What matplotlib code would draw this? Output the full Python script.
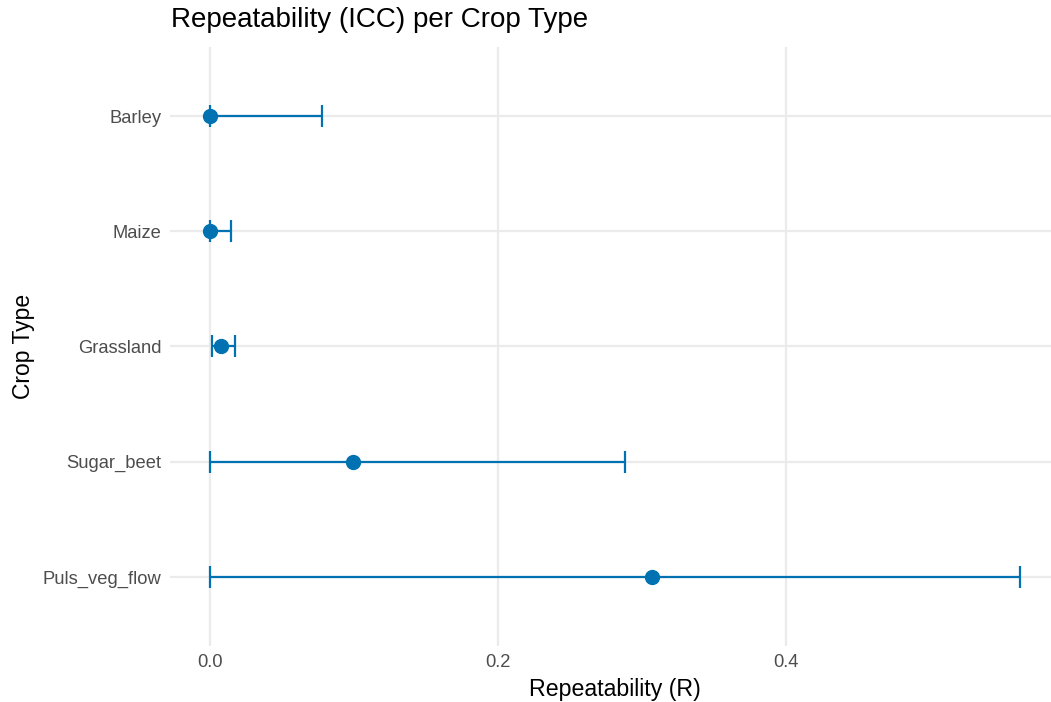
import numpy as np
import matplotlib
matplotlib.use("Agg")
from matplotlib import pyplot as plt

# crop types, bottom to top as in the chart
crops = ["Puls_veg_flow", "Sugar_beet", "Grassland", "Maize", "Barley"]
icc = [0.307, 0.0993, 0.0081, 0.0, 0.0]
ci_low = [0.0, 0.0, 0.0016, 0.0, 0.0]
ci_high = [0.5625, 0.288, 0.0176, 0.0148, 0.0776]

blue = "#0072B2"
plt.rcParams['font.family'] = ['Liberation Sans', 'DejaVu Sans']

W, H = 1051, 702
fig = plt.figure(figsize=(W / 100, H / 100), dpi=100)
# panel in pixel coords: left 169.5, right ~1060 (runs past the edge), top 47, bottom 646
ax = fig.add_axes([169.5 / W, 1 - 646 / H, (1060 - 169.5) / W, (646 - 47) / H])

y = np.arange(1, len(crops) + 1)
icc = np.array(icc)
err = np.vstack([icc - np.array(ci_low), np.array(ci_high) - icc])
ax.errorbar(icc, y, xerr=err, fmt='none', ecolor=blue, elinewidth=1.6,
            capsize=8, capthick=1.6, zorder=3)
ax.plot(icc, y, 'o', color=blue, markersize=10, zorder=4)

ax.set_xlim(-0.028, (1060 - 210) / 1440)
ax.set_ylim(0.4, len(crops) + 0.6)
ax.set_xticks([0.0, 0.2, 0.4])
ax.set_xticklabels(["0.0", "0.2", "0.4"])
ax.set_yticks(y)
ax.set_yticklabels(crops)

for s in ax.spines.values():
    s.set_visible(False)
ax.tick_params(length=0, labelsize=13.2, colors="#4D4D4D", pad=6)
ax.grid(True, color="#EBEBEB", linewidth=1.6)
ax.set_axisbelow(True)

ax.set_xlabel("Repeatability (R)", fontsize=16.7, color="black", labelpad=5)
ax.set_ylabel("Crop Type", fontsize=16.5, color="black", labelpad=5)
fig.text(171 / W, 1 - 20 / H, "Repeatability (ICC) per Crop Type",
         fontsize=20, ha="left", va="center")

fig.savefig("out.png", dpi=100)
